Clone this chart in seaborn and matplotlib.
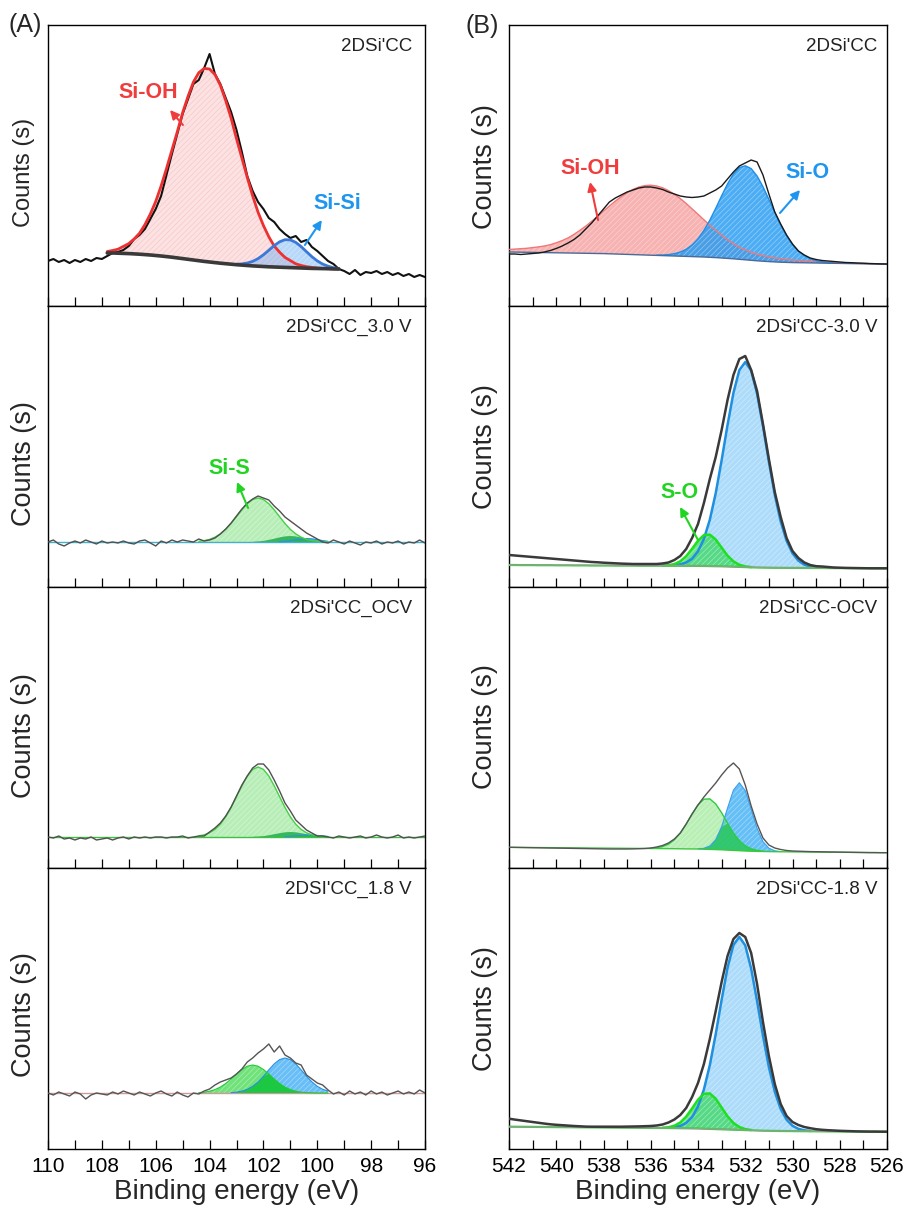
import numpy as np
import matplotlib
matplotlib.use("Agg")
import matplotlib.pyplot as plt
import seaborn as sns
from matplotlib.ticker import MultipleLocator

# ---------------- data (heights, arbitrary counts) ----------------
# energy grids
L_x = np.round(np.arange(110.0, 95.99, -0.2), 2)     # Si 2p, 71 points
R_x = np.round(np.arange(542.0, 525.99, -0.25), 2)   # O 1s, 65 points

# ---- (A) Si 2p ----
L1_raw = [45, 47, 44, 46, 43, 46, 44, 47, 45, 48,
          47, 50, 53, 54, 56, 60, 67, 71, 77, 87,
          97, 110, 131, 152, 172, 192, 207, 222, 226, 238,
          252, 232, 222, 208, 194, 176, 154, 130, 115, 104,
          97, 88, 84, 77, 72, 68, 70, 64, 66, 59,
          55, 50, 45, 42, 37, 35, 32, 36, 31, 34,
          33, 35, 32, 34, 31, 33, 30, 32, 29, 31,
          29]
L1_bg_start = 107.8
L1_bg = [53, 53, 52.8, 52.6, 52.4, 52.1, 51.8, 51.4, 51, 50.5,
         50, 49.4, 48.8, 48.1, 47.4, 46.7, 46, 45.3, 44.6, 44,
         43.4, 42.8, 42.3, 41.8, 41.3, 40.9, 40.5, 40.1, 39.8, 39.5,
         39.2, 39, 38.8, 38.6, 38.4, 38.2, 38, 37.8, 37.6, 37.5,
         37.4, 37.3, 37.1, 37]
L1_SiOH_start = 107.8
L1_SiOH = [1.5, 2.5, 4, 7, 10, 15, 21, 30, 41, 54,
           70, 88, 107, 126, 146, 163, 178, 188, 193, 193,
           188, 178, 163, 146, 126, 107, 88, 70, 54, 41,
           30, 21, 15, 10, 7, 4, 2.5, 1.5, 1, 0.5,
           0, 0, 0, 0]
L1_SiSi_start = 103.0
L1_SiSi = [0.5, 1.2, 2.5, 4.5, 7.6, 11.7, 16.5, 21.4, 25.4, 27.7,
           27.7, 25.4, 21.4, 16.5, 11.7, 7.6, 4.5, 2.5, 1.2, 0.5]

L2_raw = [45, 47, 43, 41, 44, 46, 44, 47, 45, 43,
          46, 44, 45, 44, 46, 44, 43, 46, 47, 44,
          41, 46, 44, 47, 45, 47, 46, 45, 48, 46,
          47, 49, 53, 58, 64, 71, 78, 84, 88, 91,
          89, 87, 81, 76, 70, 66, 62, 58, 54, 51,
          48, 45, 44, 47, 45, 43, 46, 44, 42, 45,
          44, 46, 43, 45, 44, 46, 43, 45, 44, 47,
          44]
L2_base = 45
L2_SiS_start = 104.4
L2_SiS = [0.7, 1.4, 2.6, 4.8, 8.1, 12.6, 18.5, 25.3, 32.2, 38.3, 42.5, 44, 42.5,
          38.3, 32.2, 25.3, 18.5, 12.6, 8.1, 4.8, 2.6, 1.4, 0.7, 0.3, 0]
L2_g2_start = 102.4
L2_g2 = [0.2, 0.6, 1.1, 2.1, 3.3, 4.6, 5.6, 6, 5.6, 4.6, 3.3, 2.1, 1.1, 0.6, 0.2]
L2_b_start = 101.4
L2_b = [0.3, 0.7, 1.4, 2.4, 3.2, 3.5, 3.2, 2.4, 1.4, 0.7]

L3_raw = [31, 30, 32, 29, 30, 28, 30, 29, 31, 28,
          29, 30, 28, 30, 31, 29, 31, 30, 31, 30,
          31, 31, 30, 31, 31, 32, 30, 31, 32, 32,
          36, 40, 45, 52, 61, 72, 83, 92, 100, 104,
          104, 98, 88, 77, 65, 57, 48, 43, 38, 35,
          32, 32, 31, 30, 32, 31, 30, 31, 32, 30,
          31, 33, 31, 30, 31, 33, 30, 31, 30, 31,
          32]
L3_base = 31
L3_SiS_start = 104.4
L3_SiS = [1.1, 2.2, 4.2, 7.6, 12.8, 20.1, 29.5, 40.3, 51.2, 61, 67.6, 70, 67.6,
          61, 51.2, 40.3, 29.5, 20.1, 12.8, 7.6, 4.2, 2.2, 1.1, 0.5, 0.2]
L3_g2_start = 102.4
L3_g2 = [0.2, 0.5, 0.9, 1.75, 2.75, 3.8, 4.7, 5, 4.7, 3.8, 2.75, 1.75, 0.9, 0.5, 0.2]
L3_b_start = 101.2
L3_b = [0.3, 0.6, 1.1, 1.6, 2, 2, 1.6, 1.1, 0.6]

L4_raw = [56, 54, 57, 55, 53, 57, 55, 50, 54, 56,
          55, 54, 57, 55, 58, 56, 54, 57, 55, 53,
          56, 58, 55, 53, 57, 54, 52, 56, 55, 58,
          60, 64, 67, 69, 71, 75, 80, 87, 91, 96,
          100, 105, 97, 103, 94, 91, 86, 84, 74, 70,
          66, 64, 59, 55, 57, 54, 58, 55, 57, 54,
          58, 55, 57, 54, 56, 58, 55, 57, 55, 59,
          56]
L4_base = 56
L4_g_start = 104.4
L4_g = [0.4, 0.8, 1.8, 3.4, 5.9, 9.5, 14, 19, 23.5, 26.8, 28, 26.8, 23.5,
        19, 14, 9.5, 5.9, 3.4, 1.8, 0.8, 0.4, 0.15, 0, 0, 0]
L4_b_start = 103.2
L4_b = [0.35, 0.8, 1.9, 3.7, 6.7, 11.1, 16.8, 23.1, 29.1, 33.4, 35, 33.4,
        29.1, 23.1, 16.8, 11.1, 6.7, 3.7, 1.9]

# ---- (B) O 1s ----
R1_raw = [52, 52, 51.5, 52, 52.5, 53, 54, 55.5, 57.5, 60,
          63, 66.5, 71, 77, 83, 90, 97, 104, 108, 111,
          114, 116, 118, 119, 119, 118, 116.5, 114, 112, 110,
          109, 108.5, 109, 110, 113, 116, 120, 127, 134, 140,
          143, 146, 144, 131, 112, 94, 82, 71, 62, 55,
          51, 48, 46.5, 45.5, 45, 44.5, 44, 43.5, 43.3, 43,
          42.8, 42.5, 42.3, 42.1, 42]
R1_bg = [54, 53.9, 53.8, 53.7, 53.6, 53.5, 53.4, 53.3, 53.2, 53.1,
         53.0, 52.9, 52.8, 52.7, 52.6, 52.5, 52.4, 52.2, 52.0, 51.8,
         51.6, 51.4, 51.2, 51.0, 50.8, 50.6, 50.4, 50.2, 50.0, 49.8,
         49.6, 49.4, 49.2, 49.0, 48.7, 48.4, 48.0, 47.6, 47.2, 46.7,
         46.2, 45.7, 45.2, 44.8, 44.4, 44.1, 43.8, 43.6, 43.4, 43.3,
         43.2, 43.1, 43.0, 42.9, 42.8, 42.7, 42.6, 42.5, 42.4, 42.3,
         42.2, 42.1, 42.0, 41.9, 41.8]
R1_SiOH_start = 542.0
R1_SiOH = [2.5, 3, 3.5, 4, 4.8, 5.6, 6.6, 8, 10, 12.3,
           15.1, 18.7, 22.8, 27.2, 32.1, 37.2, 42.5, 47.7, 52.9, 57.6,
           61.7, 65.2, 67.8, 69.4, 70, 69.4, 67.8, 65.2, 61.7, 57.6,
           52.9, 47.7, 42.5, 37.2, 32.1, 27.2, 22.8, 18.7, 15.1, 12.0,
           10, 8, 6.6, 5.6, 4.8, 4, 3.5, 3, 2.5, 2.2,
           1.9, 1.6, 1.4, 1.2, 1.0, 0.8, 0.7, 0.6, 0.5, 0.4,
           0.3, 0.2, 0.2, 0.1, 0.1]
R1_SiO_start = 535.75
R1_SiO = [0.3, 0.6, 1.2, 2.3, 4.1, 7.1, 11.6, 18, 26.5, 37.1, 49.3, 62.2, 74.5,
          84.8, 91.7, 94, 91.7, 84.8, 74.5, 62.2, 49.3, 37.1, 26.5, 18, 11.6,
          7.1, 4.1, 2.3, 1.2, 0.6, 0.3]

R2_raw = [32, 31.5, 31, 30.5, 30, 29.5, 29, 28.5, 28, 27.5,
          27, 26.5, 26, 25.5, 25, 24.7, 24.3, 24, 23.7, 23.4,
          23.2, 23, 23, 23, 23, 23, 23.5, 24.5, 27, 31,
          38, 49, 63, 84, 108, 130, 157, 187, 212, 228,
          231, 217, 196, 163, 128, 95, 70, 49, 36, 29,
          24.5, 22, 20.8, 20.5, 20, 19.5, 19.3, 19.1, 19, 18.9,
          18.8, 18.7, 18.7, 18.7, 18.7]
R2_bg = [22.0, 22.0, 21.9, 21.9, 21.9, 21.8, 21.8, 21.8, 21.7, 21.7,
         21.7, 21.6, 21.6, 21.6, 21.5, 21.5, 21.5, 21.5, 21.4, 21.4,
         21.4, 21.4, 21.3, 21.3, 21.3, 21.3, 21.3, 21.2, 21.2, 21.2,
         21.2, 21.1, 21.1, 21.0, 20.9, 20.8, 20.7, 20.5, 20.3, 20.1,
         19.9, 19.7, 19.5, 19.4, 19.3, 19.2, 19.2, 19.1, 19.1, 19.1,
         19.0, 19.0, 19.0, 19.0, 18.9, 18.9, 18.9, 18.9, 18.8, 18.8,
         18.8, 18.8, 18.7, 18.7, 18.7]
R2_SO_start = 535.5
R2_SO = [0.15, 0.6, 1.7, 4.5, 9.6, 17.1, 25.2, 30.9, 31.5, 26.7, 18.7, 10.9,
         5.3, 2.1, 0.7, 0.2]
R2_SiO_start = 535.0
R2_SiO = [0.5, 1.4, 3.3, 7.2, 14.6, 27.1, 46.3, 73, 106, 141.5, 173.8, 196.8,
          205, 196.8, 173.8, 141.5, 106, 73, 46.3, 27.1, 14.6, 7.2, 3.3, 1.4, 0.5]

R3_raw = [20.7, 20.6, 20.5, 20.4, 20.3, 20.2, 20.1, 20.0, 19.9, 19.8,
          19.7, 19.6, 19.5, 19.4, 19.3, 19.2, 19.1, 19.0, 19.0, 19.0,
          19.0, 19.1, 19.3, 19.5, 20, 21, 22.5, 25, 29, 35,
          44, 54, 63, 71, 78, 85, 93, 100, 105, 99,
          83, 62, 44, 30, 23, 20, 18.5, 17.5, 17, 16.8,
          16.6, 16.4, 16.3, 16.2, 16.1, 16.0, 15.9, 15.8, 15.7, 15.6,
          15.5, 15.4, 15.4, 15.3, 15.3]
R3_bg = [20.7, 20.65, 20.6, 20.55, 20.5, 20.45, 20.4, 20.35, 20.3, 20.25,
         20.2, 20.15, 20.1, 20.05, 20.0, 19.95, 19.9, 19.85, 19.8, 19.75,
         19.7, 19.65, 19.6, 19.55, 19.5, 19.45, 19.4, 19.35, 19.3, 19.2,
         19.1, 19.05, 19.0, 18.8, 18.6, 18.4, 18.2, 17.9, 17.6, 17.3,
         17.0, 16.8, 16.6, 16.5, 16.4, 16.3, 16.25, 16.2, 16.1, 16.05,
         16.0, 15.95, 15.9, 15.85, 15.8, 15.75, 15.7, 15.65, 15.6, 15.55,
         15.5, 15.45, 15.4, 15.35, 15.3]
R3_SO_start = 536.0
R3_SO = [0.3, 0.8, 2.0, 4.5, 8.9, 15.8, 24.8, 35, 44.2, 50, 50.5, 45.7, 37,
         26.8, 17.4, 10.1, 5.2, 2.4, 1.0, 0.4]
R3_SiO_start = 534.0
R3_SiO = [0.2, 0.9, 3.4, 9.9, 23, 42, 60.3, 68, 60.3, 42, 23, 9.9, 3.4, 0.9, 0.2]

R4_raw = [30.3, 29.4, 28.6, 27.8, 27.0, 26.2, 25.4, 24.7, 24.2, 23.8,
          23.4, 23.0, 22.7, 22.4, 22.3, 22.3, 22.3, 22.3, 22.3, 22.3,
          22.4, 22.5, 22.6, 22.8, 23, 23.5, 24.5, 26.5, 29.5, 34,
          41, 52, 66, 85, 110, 138, 167, 193, 210, 216,
          212, 196, 165, 127, 93, 65, 45, 33, 27, 24,
          22, 20.8, 19.8, 19.2, 18.8, 18.5, 18.2, 18.0, 17.8, 17.6,
          17.5, 17.4, 17.4, 17.3, 17.3]
R4_bg = [22.3, 22.25, 22.2, 22.15, 22.1, 22.05, 22.0, 21.95, 21.9, 21.85,
         21.8, 21.75, 21.7, 21.65, 21.6, 21.55, 21.5, 21.45, 21.4, 21.35,
         21.3, 21.25, 21.2, 21.15, 21.1, 21.05, 21.0, 20.95, 20.9, 20.8,
         20.7, 20.6, 20.5, 20.3, 20.1, 19.9, 19.7, 19.5, 19.3, 19.1,
         18.9, 18.7, 18.5, 18.3, 18.2, 18.1, 18.0, 17.95, 17.9, 17.85,
         17.8, 17.75, 17.7, 17.65, 17.6, 17.55, 17.5, 17.47, 17.45, 17.42,
         17.4, 17.37, 17.35, 17.32, 17.3]
R4_SO_start = 535.5
R4_SO = [0.24, 0.8, 2.4, 5.7, 11.7, 20, 28.8, 34.9, 35.5, 30.4, 21.8, 13.2,
         6.7, 2.9, 1.0, 0.3]
R4_SiO_start = 535.25
R4_SiO = [0.3, 0.9, 2.3, 5.3, 11.3, 22, 39.2, 63.7, 95, 129.5, 161.7, 184.7,
          193, 184.7, 161.7, 129.5, 95, 63.7, 39.2, 22, 11.3, 5.3, 2.3, 0.9, 0.3]

L_names = ["2DSi'CC", "2DSi'CC_3.0 V", "2DSi'CC_OCV", "2DSI'CC_1.8 V"]
R_names = ["2DSi'CC", "2DSi'CC-3.0 V", "2DSi'CC-OCV", "2DSi'CC-1.8 V"]
L_ticks = [110, 108, 106, 104, 102, 100, 98, 96]
R_ticks = [542, 540, 538, 536, 534, 532, 530, 528, 526]

for nm, arr, n in [("L1_raw", L1_raw, 71), ("L2_raw", L2_raw, 71), ("L3_raw", L3_raw, 71),
                   ("L4_raw", L4_raw, 71), ("R1_raw", R1_raw, 65), ("R2_raw", R2_raw, 65),
                   ("R3_raw", R3_raw, 65), ("R4_raw", R4_raw, 65), ("R1_bg", R1_bg, 65),
                   ("R2_bg", R2_bg, 65), ("R3_bg", R3_bg, 65), ("R4_bg", R4_bg, 65),
                   ("R1_SiOH", R1_SiOH, 65), ("L1_bg", L1_bg, 44), ("L1_SiOH", L1_SiOH, 44)]:
    if len(arr) != n:
        raise ValueError(f"{nm} has {len(arr)} values, expected {n}")

# ---------------- style ----------------
sns.set_theme(style="ticks")
plt.rcParams["font.family"] = ["Liberation Sans", "DejaVu Sans"]
plt.rcParams["hatch.linewidth"] = 0.5

W, H = 908, 1209
fig = plt.figure(figsize=(W / 100, H / 100), dpi=100)
tops = [25, 306, 587, 868]
PH = 281
HATCH = "//////"


def make_ax(x0, x1, top):
    return fig.add_axes([x0 / W, 1 - (top + PH) / H, (x1 - x0) / W, PH / H])


def idx(grid, v):
    return int(np.argmin(np.abs(grid - v)))


def comp_xy(grid, start, vals, bg_start, bg):
    n = len(vals)
    i0 = idx(grid, start)
    xs = grid[i0:i0 + n]
    if np.isscalar(bg):
        base = np.full(n, float(bg))
    else:
        j = i0 - idx(grid, bg_start)
        base = np.asarray(bg[j:j + n], dtype=float)
    return xs, base, base + np.asarray(vals, dtype=float)


def draw_comp(ax, grid, start, vals, bg_start, bg, face, hatch=None, edge=None,
              elw=1.0, z=1):
    xs, base, top = comp_xy(grid, start, vals, bg_start, bg)
    ax.fill_between(xs, base, top, facecolor=face, edgecolor="none", linewidth=0, zorder=z)
    if hatch is not None:
        with plt.rc_context({"hatch.color": hatch}):
            ax.fill_between(xs, base, top, facecolor="none", edgecolor=hatch,
                            linewidth=0, hatch=HATCH, zorder=z)
    if edge is not None:
        sns.lineplot(x=xs, y=top, ax=ax, color=edge, linewidth=elw, zorder=z + 2,
                     estimator=None, sort=False)


def draw_overlap(ax, grid, s1, v1, s2, v2, bg_start, bg, face, z=2.5):
    """Shade the region shared by two fitted components."""
    x1, b1, t1 = comp_xy(grid, s1, v1, bg_start, bg)
    x2, b2, t2 = comp_xy(grid, s2, v2, bg_start, bg)
    common = np.intersect1d(x1, x2)
    m1 = np.isin(x1, common)
    m2 = np.isin(x2, common)
    ax.fill_between(x1[m1], b1[m1], np.minimum(t1[m1], t2[m2]), facecolor=face,
                    edgecolor="none", linewidth=0, zorder=z)


def line(ax, x, y, color, lw, z=3):
    sns.lineplot(x=np.asarray(x, dtype=float), y=np.asarray(y, dtype=float), ax=ax,
                 color=color, linewidth=lw, zorder=z, estimator=None, sort=False)


def finish(ax, xlim, ticks, name, bottom, ylab_y, ylab_fs, name_x):
    ax.set_xlim(*xlim)
    ax.set_ylim(0, PH)
    ax.set_yticks([])
    ax.xaxis.set_major_locator(MultipleLocator(2))
    ax.xaxis.set_minor_locator(MultipleLocator(1))
    ax.tick_params(axis="x", which="both", direction="in", length=6.5, width=0.9,
                   bottom=True, top=False, labelbottom=bottom, labelsize=15, pad=6,
                   colors="black")
    for s in ax.spines.values():
        s.set_linewidth(1.0)
        s.set_color("black")
    ax.set_ylabel("Counts (s)", fontsize=ylab_fs)
    ax.yaxis.label.set_va("center")
    ax.yaxis.set_label_coords(-0.064, ylab_y)
    if bottom:
        ax.set_xticks(ticks)
        ax.set_xlabel("Binding energy (eV)", fontsize=20, labelpad=2)
    else:
        ax.set_xlabel("")
    ax.text(name_x, 0.925, name, transform=ax.transAxes, ha="right", va="center",
            fontsize=13.5, color="#222222")


def tag(ax, text, xy, color):
    ax.text(xy[0], xy[1], text, ha="center", va="center", fontsize=15.5,
            fontweight="bold", color=color, zorder=10)


def arrow(ax, tail, head, color):
    ax.annotate("", xy=head, xytext=tail,
                arrowprops=dict(arrowstyle="-|>", color=color, lw=1.5,
                                mutation_scale=13, shrinkA=0, shrinkB=0), zorder=10)


RED, BLUE, GREEN = "#f03c3c", "#1e96f0", "#22d422"
WH = "#ffffff66"

# ---------------- (A) ----------------
axL = [make_ax(48, 425, t) for t in tops]

ax = axL[0]
draw_comp(ax, L_x, L1_SiOH_start, L1_SiOH, L1_bg_start, L1_bg,
          face=(0.97, 0.55, 0.55, 0.25), hatch="#f0909050", z=1)
draw_comp(ax, L_x, L1_SiSi_start, L1_SiSi, L1_bg_start, L1_bg,
          face=(0.3, 0.62, 0.95, 0.40), hatch="#ffffff60", z=1)
line(ax, L_x, L1_raw, "#111111", 1.5, z=3)
xs, b, t = comp_xy(L_x, L1_SiOH_start, L1_SiOH, L1_bg_start, L1_bg)
line(ax, xs, t, "#ee3030", 2.0, z=4)
xs, b, t = comp_xy(L_x, L1_SiSi_start, L1_SiSi, L1_bg_start, L1_bg)
line(ax, xs, t, "#3c78d8", 2.0, z=4)
xs, b, t = comp_xy(L_x, L1_bg_start, L1_bg, L1_bg_start, 0.0)
line(ax, xs, t, "#3a3a3a", 2.6, z=5)
tag(ax, "Si-OH", (106.29, 213), RED)
arrow(ax, (104.99, 181), (105.47, 196), RED)
tag(ax, "Si-Si", (99.27, 102), BLUE)
arrow(ax, (100.46, 61), (99.83, 86), BLUE)

for ax, raw, base, sis_s, sis, g2_s, g2, b_s, bb, blc in [
        (axL[1], L2_raw, L2_base, L2_SiS_start, L2_SiS, L2_g2_start, L2_g2, L2_b_start, L2_b, "#45b0c8"),
        (axL[2], L3_raw, L3_base, L3_SiS_start, L3_SiS, L3_g2_start, L3_g2, L3_b_start, L3_b, "#40c040")]:
    draw_comp(ax, L_x, b_s, bb, None, base, face=(0.2, 0.6, 0.95, 0.8), edge="#2a90e8",
              elw=0.8, z=1)
    draw_comp(ax, L_x, sis_s, sis, None, base, face=(0.38, 0.86, 0.38, 0.45),
              hatch=WH, edge="#44d044", elw=1.0, z=1)
    draw_comp(ax, L_x, g2_s, g2, None, base, face=(0.12, 0.68, 0.3, 0.85), z=2)
    line(ax, [110, 96], [base, base], blc, 1.0, z=2)
    line(ax, L_x, raw, "#505050", 1.0, z=5)

tag(axL[1], "Si-S", (103.28, 119), GREEN)
arrow(axL[1], (102.57, 79), (102.98, 105), GREEN)

ax = axL[3]
draw_comp(ax, L_x, L4_b_start, L4_b, None, L4_base, face=(0.3, 0.7, 0.96, 0.85),
          hatch=WH, edge="#2a90e0", elw=0.8, z=1)
draw_comp(ax, L_x, L4_g_start, L4_g, None, L4_base, face=(0.25, 0.85, 0.3, 0.75),
          hatch=WH, edge="#22cc33", elw=0.8, z=2)
draw_overlap(ax, L_x, L4_g_start, L4_g, L4_b_start, L4_b, None, L4_base,
             face=(0.1, 0.78, 0.25, 0.95))
line(ax, [110, 96], [L4_base, L4_base], "#d09a9a", 1.0, z=2)
line(ax, L_x, L4_raw, "#555555", 1.0, z=5)

for i, ax in enumerate(axL):
    finish(ax, (110, 96), L_ticks, L_names[i], i == 3,
           [0.477, 0.44, 0.47, 0.48][i], 17 if i == 0 else 19.5, 0.965)

# ---------------- (B) ----------------
axR = [make_ax(509, 887, t) for t in tops]

ax = axR[0]
draw_comp(ax, R_x, R1_SiOH_start, R1_SiOH, 542.0, R1_bg,
          face=(0.95, 0.45, 0.45, 0.55), hatch=WH, edge="#f07878", elw=1.0, z=1)
draw_comp(ax, R_x, R1_SiO_start, R1_SiO, 542.0, R1_bg,
          face=(0.12, 0.6, 0.95, 0.8), hatch=WH, edge="#1e8fe8", elw=1.0, z=2)
line(ax, R_x, R1_bg, "#4a6a9a", 1.0, z=4)
line(ax, R_x, R1_raw, "#1a1a1a", 1.0, z=5)
tag(ax, "Si-OH", (538.57, 138), RED)
arrow(ax, (538.23, 86), (538.57, 124), RED)
tag(ax, "Si-O", (529.38, 134), BLUE)
arrow(ax, (530.53, 93), (529.68, 116), BLUE)

for ax, raw, bg, so_s, so, sio_s, sio in [
        (axR[1], R2_raw, R2_bg, R2_SO_start, R2_SO, R2_SiO_start, R2_SiO),
        (axR[3], R4_raw, R4_bg, R4_SO_start, R4_SO, R4_SiO_start, R4_SiO)]:
    draw_comp(ax, R_x, sio_s, sio, 542.0, bg, face=(0.6, 0.83, 0.98, 0.8),
              hatch=WH, edge="#1f8fe0", elw=1.8, z=1)
    draw_comp(ax, R_x, so_s, so, 542.0, bg, face=(0.2, 0.85, 0.35, 0.72),
              hatch=WH, edge="#1ee01e", elw=1.8, z=2)
    line(ax, R_x, bg, "#3ccf3c", 1.6, z=4)
    line(ax, R_x, bg, "#9a9a9a", 0.8, z=4)
    line(ax, R_x, raw, "#3a3a3a", 1.8, z=5)

tag(axR[1], "S-O", (534.80, 94), GREEN)
arrow(axR[1], (534.0, 47), (534.76, 80), GREEN)

ax = axR[2]
draw_comp(ax, R_x, R3_SiO_start, R3_SiO, 542.0, R3_bg, face=(0.33, 0.72, 0.97, 0.9),
          hatch=WH, edge="#3aa0f0", elw=0.8, z=1)
draw_comp(ax, R_x, R3_SO_start, R3_SO, 542.0, R3_bg, face=(0.45, 0.88, 0.42, 0.5),
          hatch=WH, edge="#2ecc40", elw=1.0, z=2)
draw_overlap(ax, R_x, R3_SO_start, R3_SO, R3_SiO_start, R3_SiO, 542.0, R3_bg,
             face=(0.18, 0.78, 0.42, 0.95))
line(ax, R_x, R3_bg, "#3cc83c", 1.0, z=4)
line(ax, R_x, R3_raw, "#555555", 1.0, z=5)

for i, ax in enumerate(axR):
    finish(ax, (542, 526), R_ticks, R_names[i], i == 3,
           [0.495, 0.498, 0.503, 0.5][i], 19.5, 0.975)

fig.text(8 / W, 1 - 25 / H, "(A)", fontsize=18, ha="left", va="center")
fig.text(465 / W, 1 - 26 / H, "(B)", fontsize=18, ha="left", va="center")

fig.savefig("out.png", dpi=100)
